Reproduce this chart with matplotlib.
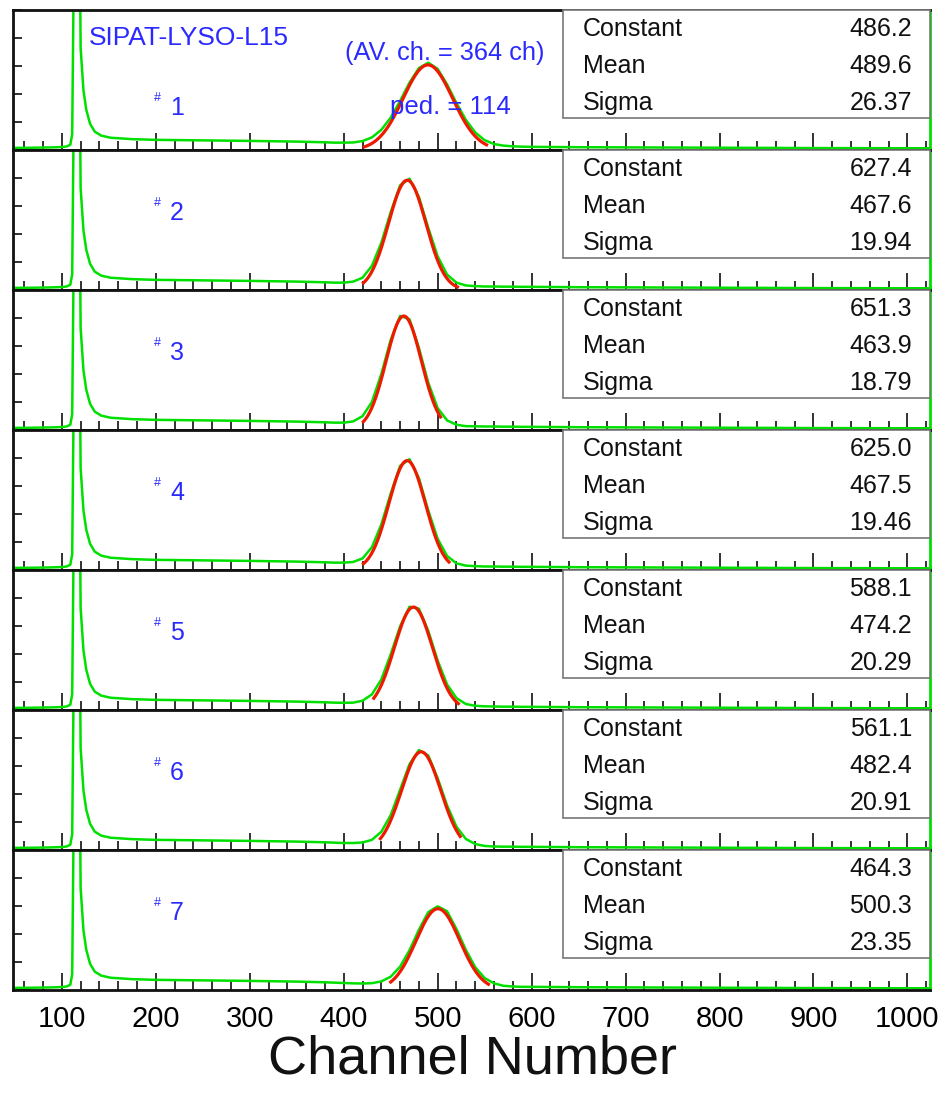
import numpy as np
import matplotlib
matplotlib.use('Agg')
import matplotlib.pyplot as plt
from matplotlib.ticker import MultipleLocator, FixedLocator
from matplotlib.patches import Rectangle

plt.rcParams['font.family'] = ['Liberation Sans', 'DejaVu Sans']

# gaussian fit results, one entry per crystal
constants = [486.2, 627.4, 651.3, 625.0, 588.1, 561.1, 464.3]
means = [489.6, 467.6, 463.9, 467.5, 474.2, 482.4, 500.3]
sigmas = [26.37, 19.94, 18.79, 19.46, 20.29, 20.91, 23.35]
fit_lo = [422, 421, 421, 421, 432, 439, 450]
fit_hi = [552, 521, 503, 512, 522, 524, 554]

# pedestal + low energy part (same shape for all crystals)
low_ch = [48, 70, 90, 100, 105, 109, 111, 113, 119, 120, 123, 126, 130, 135,
          142, 152, 175, 200, 250, 300, 350, 380]
low_counts = [12, 13, 15, 17, 20, 30, 90, 1200, 1200, 580, 340, 230, 150, 105,
              82, 70, 62, 58, 55, 52, 48, 44]

# photo peak region, read every 10 channels
peak_ch = [390, 400, 410, 420, 430, 440, 450, 460, 470, 480, 490,
           500, 510, 520, 530, 540, 550, 560, 570, 580, 590, 600]
peak_counts = [
    [42, 42, 43, 51, 72, 115, 185, 280, 385, 468, 499, 463, 375, 268, 172, 100, 56, 34, 25, 21, 19, 18],
    [42, 42, 48, 70, 138, 270, 445, 598, 636, 532, 355, 192, 88, 42, 26, 22, 20, 20, 19, 19, 18, 18],
    [42, 42, 49, 79, 160, 320, 515, 652, 633, 470, 270, 125, 55, 30, 22, 21, 20, 20, 19, 19, 18, 18],
    [42, 42, 46, 66, 130, 260, 437, 595, 633, 525, 340, 178, 80, 38, 25, 22, 20, 20, 19, 19, 18, 18],
    [42, 41, 42, 53, 89, 174, 318, 478, 590, 579, 452, 282, 146, 68, 34, 24, 21, 20, 19, 19, 18, 18],
    [42, 40, 40, 43, 58, 104, 199, 344, 490, 571, 540, 410, 255, 133, 63, 34, 23, 20, 19, 19, 18, 18],
    [42, 40, 38, 37, 39, 49, 76, 133, 227, 344, 445, 478, 450, 348, 229, 130, 68, 38, 24, 20, 18, 18],
]

tail_ch = [650, 700, 800, 900, 1000, 1024]
tail_counts = [16, 15, 13, 11, 10, 10]

stat_names = ['Constant', 'Mean', 'Sigma']

GREEN = '#00e000'
RED = '#ee1a00'
BLUE = '#2a2aff'

W, H = 949, 1096
fig = plt.figure(figsize=(W / 100, H / 100), dpi=100)

left, right = 13, 930
top, ph = 10, 140
n = len(constants)

for i in range(n):
    y0 = 1 - (top + ph * (i + 1)) / H
    ax = fig.add_axes([left / W, y0, (right - left) / W, ph / H])

    x = low_ch + peak_ch + tail_ch
    y = low_counts + peak_counts[i] + tail_counts
    ax.plot(x, y, color=GREEN, lw=1.8, zorder=2)

    xf = np.linspace(fit_lo[i], fit_hi[i], 200)
    yf = constants[i] * np.exp(-0.5 * ((xf - means[i]) / sigmas[i]) ** 2)
    ax.plot(xf, yf, color=RED, lw=2.3, zorder=2.5)

    ax.set_xlim(48, 1024)
    ax.set_ylim(0, 800)

    ax.xaxis.set_major_locator(MultipleLocator(100))
    ax.xaxis.set_minor_locator(MultipleLocator(20))
    ax.yaxis.set_major_locator(FixedLocator([0]))
    ax.yaxis.set_minor_locator(MultipleLocator(160))
    ax.tick_params(axis='both', which='major', direction='in', length=12,
                   width=1.3, color='#222222')
    ax.tick_params(axis='both', which='minor', direction='in', length=6.5,
                   width=1.3, color='#222222')
    ax.tick_params(axis='y', labelleft=False)
    ax.tick_params(axis='x', labelbottom=(i == n - 1), labelsize=21, pad=11)

    for s in ['top', 'bottom', 'left']:
        ax.spines[s].set_linewidth(2)
        ax.spines[s].set_color('#111111')
    ax.spines['right'].set_color(GREEN)
    ax.spines['right'].set_linewidth(2)

    # stats box
    ax.add_patch(Rectangle((0.6, 0.229), 0.4, 0.771, transform=ax.transAxes,
                           facecolor='white', edgecolor='#777777', lw=1.2,
                           zorder=3, clip_on=False))
    vals = ['%.1f' % constants[i], '%.1f' % means[i], '%.2f' % sigmas[i]]
    for r, (name, v) in enumerate(zip(stat_names, vals)):
        yy = 0.862 - r * 0.262
        ax.text(0.6216, yy, name, transform=ax.transAxes, fontsize=18,
                va='center', ha='left', color='#111111', zorder=4)
        ax.text(0.9804, yy, v, transform=ax.transAxes, fontsize=18,
                va='center', ha='right', color='#111111', zorder=4)

    # crystal number
    ly = 0.30 if i == 0 else 0.55
    ax.text(0.157, ly + 0.07, '#', transform=ax.transAxes, fontsize=9,
            color=BLUE, ha='center', va='center')
    ax.text(0.179, ly, str(i + 1), transform=ax.transAxes, fontsize=18,
            color=BLUE, ha='center', va='center')

    if i == 0:
        ax.text(0.083, 0.797, 'SIPAT-LYSO-L15', transform=ax.transAxes,
                fontsize=19, color=BLUE, ha='left', va='center')
        ax.text(0.362, 0.696, '(AV. ch. = 364 ch)', transform=ax.transAxes,
                fontsize=18.3, color=BLUE, ha='left', va='center', zorder=4)
        ax.text(0.411, 0.304, 'ped. = 114', transform=ax.transAxes,
                fontsize=18.5, color=BLUE, ha='left', va='center', zorder=4)

fig.text(473 / W, 1 - 1074 / H, 'Channel Number', fontsize=39,
         ha='center', va='baseline', color='#111111')

fig.savefig('out.png', dpi=100)
